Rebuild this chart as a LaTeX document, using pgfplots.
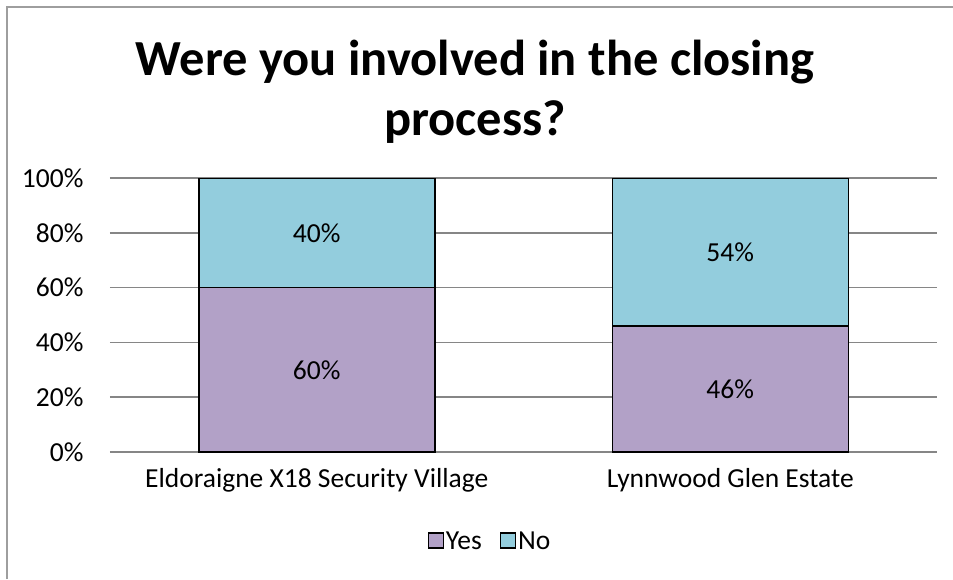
\documentclass[border=0pt]{standalone}
\usepackage{pgfplots}
\pgfplotsset{compat=1.18}
\usepackage{fontspec}
\setmainfont{Carlito}
\definecolor{yesc}{HTML}{B2A1C7}
\definecolor{noc}{HTML}{93CDDD}
\definecolor{gridc}{HTML}{868686}
\begin{document}
\begin{tikzpicture}[x=1pt,y=1pt]
\useasboundingbox (0,0) rectangle (953,579);
\draw[gridc!80, line width=1.5pt] (7,0) -- (7,572) -- (953,572);
\node[font=\bfseries\fontsize{50.5}{60}\selectfont, align=center] at (475,487) {Were you involved in the closing\\process?};
\pgfplotsset{common/.style={
  at={(110pt,127pt)}, anchor=south west, scale only axis,
  width=827pt, height=274pt,
  xmin=-0.5, xmax=1.5, ymin=0, ymax=100,
  /pgf/number format/assume math mode=true,
  ticklabel style={font=\fontsize{27.5}{32}\selectfont},
}}
\begin{axis}[common,
  ybar stacked, bar width=236pt,
  axis line style={draw=none},
  ymajorgrids, major grid style={gridc, line width=1.5pt},
  ytick={0,20,40,60,80,100},
  yticklabel={\pgfmathprintnumber{\tick}\%},
  xtick={0,1},
  xticklabels={Eldoraigne X18 Security Village, Lynnwood Glen Estate},
  major tick length=0pt,
  yticklabel style={xshift=-23pt},
  xticklabel style={yshift=-13pt},
  legend style={at={(0.4595,-0.325)}, anchor=center, draw=none, fill=none,
    font=\fontsize{27.5}{32}\selectfont, legend columns=2,
    /tikz/every even column/.append style={column sep=16pt}},
  legend image code/.code={\draw[#1, draw=black, line width=1.2pt] (0pt,-7pt) rectangle (15pt,8pt);},
]
\addplot[fill=yesc, draw=black, line width=1.5pt] coordinates {(0,60) (1,46)};
\addplot[fill=noc, draw=black, line width=1.5pt] coordinates {(0,40) (1,54)};
\legend{Yes, No}
\end{axis}
\begin{axis}[common, axis lines=none, ticks=none]
\addplot[only marks, mark=none, nodes near coords, point meta=explicit symbolic,
  every node near coord/.append style={anchor=center, font=\fontsize{27.5}{32}\selectfont}]
  coordinates {(0,30) [60\%] (1,23) [46\%] (0,80) [40\%] (1,73) [54\%]};
\end{axis}
\end{tikzpicture}
\end{document}
